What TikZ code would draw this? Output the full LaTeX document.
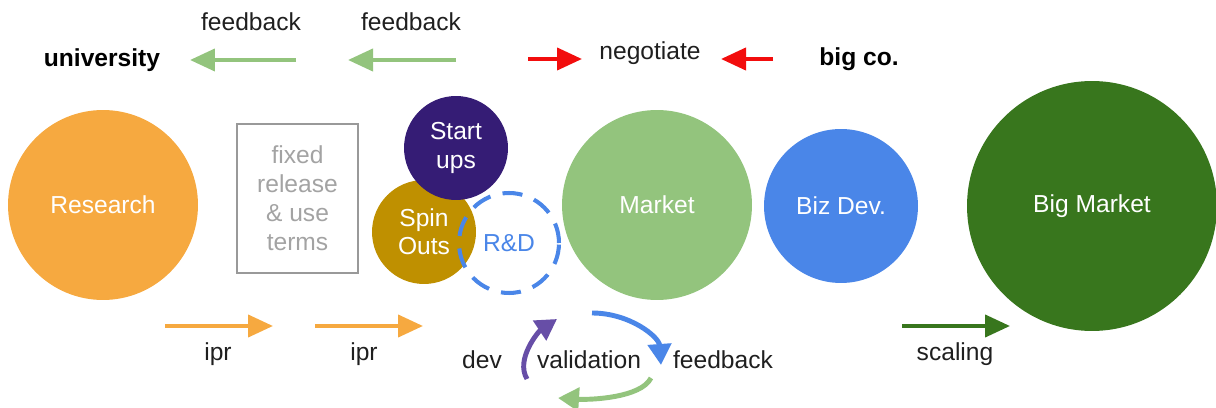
\documentclass[tikz,border=0pt]{standalone}
\usepackage{fontspec}
\setmainfont{Liberation Sans}
\usetikzlibrary{arrows.meta,calc,positioning}
\definecolor{resorange}{HTML}{F6A940}
\definecolor{lgreen}{HTML}{93C47D}
\definecolor{dgreen}{HTML}{38761D}
\definecolor{gblue}{HTML}{4A86E8}
\definecolor{spurple}{HTML}{351C75}
\definecolor{lpurple}{HTML}{674EA7}
\definecolor{gold}{HTML}{BF9000}
\definecolor{boxgray}{HTML}{999999}
\definecolor{negred}{HTML}{F20D0D}
\tikzset{%
	txt/.style     = {font=\fontsize{14}{16}\selectfont, text=black!88},
	boldtxt/.style = {font=\fontsize{14}{16}\selectfont\bfseries, text=black},
	blob/.style    = {circle, draw=none, inner sep=0pt, align=center, text=white, font=\fontsize{14}{16}\selectfont},
	fat/.style     = {line width=2.3pt, -{Triangle[length=0.5cm,width=0.44cm]}},
	loop/.style    = {line width=2.8pt, -{Triangle[length=0.42cm,width=0.46cm]}},
}
\begin{document}
\begin{tikzpicture}[x=0.02cm,y=-0.02cm]
		\useasboundingbox (0,0) rectangle (1216,408);
		% circles of the pipeline
		\node[blob, fill=resorange, minimum size=3.8cm] (research) at (103,205) {Research};
		\node[draw=boxgray, line width=1pt, minimum width=2.42cm, minimum height=2.98cm, align=center, text=boxgray!90, font=\fontsize{14}{16.5}\selectfont] (terms) at (297.5,198.5) {fixed\\release\\\& use\\terms};
		\node[blob, fill=gold, minimum size=2.08cm] (spin) at (424,232) {Spin\\Outs};
		\node[blob, fill=spurple, minimum size=2.08cm] (start) at (456,148) {Start\\ups};
		\node[blob, draw=gblue, line width=2.3pt, dash pattern=on 0.4cm off 0.25cm, minimum size=2.0cm, text=gblue] (rnd) at (509,243) {R\&D};
		\node[blob, fill=lgreen, minimum size=3.8cm] (market) at (657,205) {Market};
		\node[blob, fill=gblue, minimum size=3.08cm] (bizdev) at (841,206) {Biz Dev.};
		\node[blob, fill=dgreen, minimum size=5cm] (bigmarket) at (1092,206) {Big Market};
		% top row
		\node[boldtxt] (uni) at (102,60) {university};
		\node[boldtxt] (bigco) at (859,59) {big co.};
		\node[txt] (negotiate) at (650,53) {negotiate};
		\node[txt] (fbA) at (251,22) {feedback};
		\node[txt] (fbB) at (411,22) {feedback};
		\coordinate (fbAs) at (296,60); \coordinate (fbAe) at (190,60);
		\coordinate (fbBs) at (456,60); \coordinate (fbBe) at (348,60);
		\coordinate (negAs) at (528,59); \coordinate (negAe) at (582,59);
		\coordinate (negBs) at (773,59); \coordinate (negBe) at (721,59);
		\draw[fat, lgreen] (fbAs) -- (fbAe);
		\draw[fat, lgreen] (fbBs) -- (fbBe);
		\draw[fat, negred] (negAs) -- (negAe);
		\draw[fat, negred] (negBs) -- (negBe);
		% bottom row
		\coordinate (iprAs) at (165,326); \coordinate (iprAe) at (273,326);
		\coordinate (iprBs) at (315,326); \coordinate (iprBe) at (423,326);
		\coordinate (scs) at (902,326); \coordinate (sce) at (1010,326);
		\draw[fat, resorange] (iprAs) -- (iprAe);
		\draw[fat, resorange] (iprBs) -- (iprBe);
		\draw[fat, dgreen] (scs) -- (sce);
		\node[txt] (iprA) at (218,354) {ipr};
		\node[txt] (iprB) at (364,354) {ipr};
		\node[txt] (scaling) at (955,354) {scaling};
		% dev / validation / feedback loop
		\node[txt] (dev) at (482,360) {dev};
		\node[txt] (valid) at (589,360) {validation};
		\node[txt] (fbC) at (723,360) {feedback};
		\coordinate (devS) at (527,379); \coordinate (devE) at (557,319);
		\coordinate (fbS) at (592,313); \coordinate (fbE) at (661,365);
		\coordinate (vaS) at (651,378); \coordinate (vaE) at (558,398);
		\draw[loop, lpurple] (devS) .. controls +(-12,-20) and +(-18,12) .. (devE);
		\draw[loop, gblue] (fbS) .. controls +(38,0) and +(-2,-28) .. (fbE);
		\draw[loop, lgreen] (vaS) .. controls +(-10,20) and +(32,2) .. (vaE);
		\end{tikzpicture}
\end{document}
